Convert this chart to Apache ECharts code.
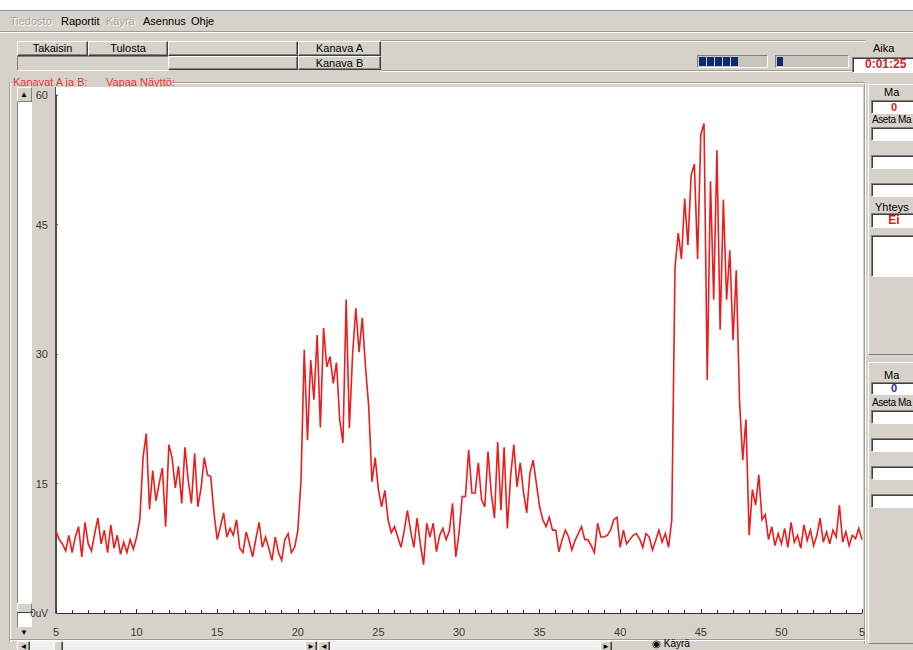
<!DOCTYPE html>
<html><head><meta charset="utf-8">
<script src="https://cdn.jsdelivr.net/npm/echarts@6/dist/echarts.min.js"></script>
<style>
body{margin:0;width:913px;height:650px;overflow:hidden;background:#d6d2ca;font-family:"Liberation Sans",Arial,sans-serif;font-size:11px;color:#000;position:relative}
.a{position:absolute}
.btn{position:absolute;box-sizing:border-box;background:#d6d2ca;border:1px solid;border-color:#fff #404040 #404040 #fff;box-shadow:inset -1px -1px #808080;text-align:center;line-height:12px;white-space:nowrap}
.sunk{position:absolute;box-sizing:border-box;background:#fff;border:1px solid;border-color:#808080 #fff #fff #808080;box-shadow:inset 1px 1px #404040;text-align:center;white-space:nowrap}
.l{position:absolute;white-space:nowrap;line-height:12px}
.dis{color:#a8a49c;text-shadow:1px 1px #fff}
.hl{position:absolute;height:1px;background:#a09c94;box-shadow:0 1px #fff}
.vl{position:absolute;width:1px;background:#a09c94;box-shadow:1px 0 #fff}
.sm{font-size:10px;letter-spacing:-0.4px}
#chart{position:absolute;left:0;top:0;width:913px;height:650px;z-index:5}
</style></head>
<body>
<!-- window chrome -->
<div class="a" style="left:0;top:0;width:913px;height:10px;background:#fff"></div>
<div class="a" style="left:0;top:10px;width:913px;height:1px;background:#8597b0"></div>
<div class="l dis" style="left:10px;top:15px">Tiedosto</div>
<div class="l" style="left:61px;top:15px">Raportit</div>
<div class="l dis" style="left:106px;top:15px">Käyrä</div>
<div class="l" style="left:143px;top:15px">Asennus</div>
<div class="l" style="left:191px;top:15px">Ohje</div>
<div class="hl" style="left:0;top:31px;width:913px"></div>

<div class="btn" style="left:17px;top:41px;width:71px;height:15px">Takaisin</div>
<div class="btn" style="left:88px;top:41px;width:80px;height:15px">Tulosta</div>
<div class="btn" style="left:168px;top:41px;width:130px;height:15px"></div>
<div class="btn" style="left:298px;top:41px;width:83px;height:15px">Kanava A</div>
<div class="a" style="left:17px;top:56px;width:150px;height:13px;border:1px solid;border-color:#808080 #fff #fff #808080"></div>
<div class="btn" style="left:168px;top:56px;width:130px;height:14px"></div>
<div class="btn" style="left:298px;top:56px;width:83px;height:14px">Kanava B</div>
<div class="hl" style="left:381px;top:40px;width:484px"></div>
<div class="hl" style="left:381px;top:70px;width:484px"></div>

<!-- progress bars -->
<div class="a" style="left:697px;top:55px;width:71px;height:13px;background:#c9c5bd;border:1px solid;border-color:#808080 #fff #fff #808080;box-sizing:border-box"></div>
<div class="a" style="left:699px;top:57px;width:7px;height:9px;background:#0c2a6e"></div>
<div class="a" style="left:707px;top:57px;width:7px;height:9px;background:#0c2a6e"></div>
<div class="a" style="left:715px;top:57px;width:7px;height:9px;background:#0c2a6e"></div>
<div class="a" style="left:723px;top:57px;width:7px;height:9px;background:#0c2a6e"></div>
<div class="a" style="left:731px;top:57px;width:7px;height:9px;background:#0c2a6e"></div>
<div class="a" style="left:775px;top:55px;width:74px;height:13px;background:#c9c5bd;border:1px solid;border-color:#808080 #fff #fff #808080;box-sizing:border-box"></div>
<div class="a" style="left:777px;top:57px;width:6px;height:9px;background:#0c2a6e"></div>
<div class="l" style="left:873px;top:42px">Aika</div>
<div class="sunk" style="left:852px;top:57px;width:70px;height:16px;text-align:left;padding-left:12px;color:#d81c24;font-weight:bold;font-size:12px;line-height:13px">0:01:25</div>

<!-- group box -->
<div class="hl" style="left:10px;top:82px;width:3px"></div>
<div class="hl" style="left:172px;top:82px;width:693px"></div>
<div class="vl" style="left:9px;top:82px;height:560px"></div>
<div class="l" style="left:13px;top:76px;color:#e8333a">Kanavat A ja B:</div>
<div class="l" style="left:106px;top:76px;color:#e8333a">Vapaa Näyttö:</div>

<!-- plot background -->
<div class="a" style="left:55px;top:87px;width:807px;height:526px;background:#fff;border-left:1px solid #505050"></div>
<div class="vl" style="left:864px;top:84px;height:560px"></div>

<!-- left slider -->
<div class="a" style="left:17px;top:87px;width:15px;height:15px;background:#d6d2ca;border:1px solid;border-color:#fff #808080 #808080 #fff;box-sizing:border-box"></div>
<div class="l" style="left:20px;top:89px;font-size:8px">▲</div>
<div class="a" style="left:17px;top:102px;width:15px;height:501px;background:#fff;border-left:1px solid #808080;box-sizing:border-box"></div>
<div class="a" style="left:17px;top:603px;width:15px;height:10px;background:#d6d2ca;border:1px solid;border-color:#fff #808080 #808080 #fff;box-sizing:border-box"></div>
<div class="a" style="left:17px;top:612px;width:16px;height:1px;background:#404040"></div>
<div class="a" style="left:17px;top:613px;width:15px;height:14px;background:#fff;border-left:1px solid #808080;box-sizing:border-box"></div>
<div class="l" style="left:20px;top:627px;font-size:8px">▼</div>

<!-- bottom scrollbars -->
<div class="hl" style="left:10px;top:639px;width:855px"></div>
<div class="btn" style="left:17px;top:641px;width:13px;height:12px;font-size:8px;line-height:10px">◄</div>
<div class="a" style="left:30px;top:641px;width:275px;height:12px;background:#f2f0ec"></div>
<div class="btn" style="left:54px;top:641px;width:9px;height:12px"></div>
<div class="btn" style="left:305px;top:641px;width:12px;height:12px;font-size:8px;line-height:10px">►</div>
<div class="btn" style="left:318px;top:641px;width:12px;height:12px;font-size:8px;line-height:10px">◄</div>
<div class="a" style="left:330px;top:641px;width:270px;height:12px;background:#f2f0ec"></div>
<div class="btn" style="left:600px;top:641px;width:12px;height:12px;font-size:8px;line-height:10px">►</div>
<div class="l" style="left:652px;top:638px;font-size:10px;line-height:11px">◉ Käyrä</div>

<!-- right panel -->
<div class="a" style="left:868px;top:84px;width:60px;height:271px;border:1px solid;border-color:#fff #808080 #808080 #fff;box-sizing:border-box"></div>
<div class="l" style="left:884px;top:86px">Ma</div>
<div class="sunk" style="left:871px;top:100px;width:46px;height:14px;color:#d81c24;font-weight:bold;line-height:12px">0</div>
<div class="l sm" style="left:872px;top:114px">Aseta Ma</div>
<div class="sunk" style="left:871px;top:127px;width:50px;height:14px"></div>
<div class="sunk" style="left:871px;top:155px;width:50px;height:14px"></div>
<div class="sunk" style="left:871px;top:183px;width:50px;height:14px"></div>
<div class="l" style="left:875px;top:201px">Yhteys</div>
<div class="sunk" style="left:871px;top:213px;width:46px;height:15px;color:#d81c24;font-weight:bold;font-size:12px;line-height:13px">Ei</div>
<div class="sunk" style="left:871px;top:235px;width:50px;height:42px"></div>
<div class="a" style="left:868px;top:362px;width:60px;height:282px;border:1px solid;border-color:#fff #808080 #808080 #fff;box-sizing:border-box"></div>
<div class="l" style="left:884px;top:369px">Ma</div>
<div class="sunk" style="left:871px;top:382px;width:46px;height:13px;color:#1a2aa8;font-weight:bold;line-height:11px">0</div>
<div class="l sm" style="left:872px;top:397px">Aseta Ma</div>
<div class="sunk" style="left:871px;top:410px;width:50px;height:14px"></div>
<div class="sunk" style="left:871px;top:438px;width:50px;height:14px"></div>
<div class="sunk" style="left:871px;top:466px;width:50px;height:14px"></div>
<div class="sunk" style="left:871px;top:494px;width:50px;height:14px"></div>

<div id="chart"></div>
<script>
// time axis: seconds, one sample every 0.2 s starting at 5 s
const xStart = 5;
const xStep = 0.2;
const xTicks = [5, 10, 15, 20, 25, 30, 35, 40, 45, 50, 55];
const yTicks = [0, 15, 30, 45, 60];

// signal (uV), in consecutive segments
const rest1  = [9.5,8.5,8.0,7.2,9.0, 7.0,8.8,10.0,6.5,10.5, 8.0,7.2,9.2,11.0,8.0, 9.6,7.0,10.2,7.5,9.0, 6.8,8.2,7.0,8.5,7.4];
const burst1 = [8.8,10.8,18.0,20.8,12.0, 16.5,13.0,15.0,16.8,10.0, 19.5,18.0,14.5,17.0,12.7, 19.2,15.4,12.7,18.5,12.3, 14.5,18.0,16.0,15.8,11.6];
const rest2  = [8.5,10.0,11.6,8.8,9.8, 9.0,10.8,7.5,7.0,9.4, 8.0,6.5,8.6,10.5,7.6, 8.8,7.5,6.1,8.8,7.0, 6.1,8.5,9.2,7.0,7.6];
const burst2 = [9.5,15.4,30.5,20.0,29.3, 24.7,32.2,21.5,33.0,28.5, 29.7,26.6,29.0,22.4,19.7, 36.3,21.4,30.0,35.3,30.2, 34.2,28.5,23.9,15.2,18.0, 14.3,12.3,14.2,10.8,9.3];
const rest3  = [10.0,8.8,7.6,9.5,11.9, 9.5,7.6,11.0,8.0,5.6, 10.4,8.8,10.4,7.1,9.0, 9.8,8.5,9.5,12.7,6.5];
const burst3 = [9.2,13.5,13.5,18.9,13.9, 13.9,17.4,13.1,12.3,18.7, 13.9,11.0,19.8,11.9,19.2, 9.8,15.8,19.5,14.6,17.4, 14.0,11.6,16.2,17.7,15.0, 12.3,10.8,10.0,11.1,9.6];
const rest4  = [9.6,7.1,8.5,9.6,8.8, 7.3,8.4,9.2,10.0,8.5, 8.5,7.8,7.0,10.4,8.8, 8.8,9.0,9.6,10.8,11.1, 7.6,9.6,8.0,8.5,9.0, 9.2,8.6,7.6,9.2,8.8, 7.3,8.4,9.6,8.2,9.2];
const burst4 = [7.6,10.8,40.0,44.0,41.0, 48.0,42.6,50.7,52.0,41.0, 55.4,56.7,27.0,50.0,36.3, 53.6,32.8,47.9,36.3,42.0, 31.6,39.7,24.7,17.7,22.4, 9.0,14.3,12.5,16.0,10.8];
const rest5  = [11.4,8.5,10.0,7.8,9.2, 8.0,9.8,7.6,10.5,8.2, 9.0,7.5,10.2,8.4,9.6, 7.8,9.0,11.0,8.2,9.4, 8.0,9.6,8.8,12.5,8.2, 9.4,7.8,9.0,8.6,9.8, 8.5];

const signal = [].concat(rest1, burst1, rest2, burst2, rest3, burst3, rest4, burst4, rest5);
const seriesData = signal.map((v, i) => [+(xStart + i * xStep).toFixed(2), v]);

const chart = echarts.init(document.getElementById('chart'), null, {renderer: 'svg'});
const font = '"Liberation Sans", Arial, sans-serif';
chart.setOption({
  animation: false,
  backgroundColor: 'transparent',
  grid: {left: 56, right: 51, top: 95, bottom: 37, containLabel: false},
  xAxis: {
    type: 'value',
    min: xTicks[0], max: xTicks[xTicks.length - 1], interval: 5,
    axisLine: {show: true, lineStyle: {color: '#303030', width: 1}},
    axisTick: {show: true, inside: true, length: 4, lineStyle: {color: '#303030'}},
    minorTick: {show: true, splitNumber: 5, length: 3, lineStyle: {color: '#303030'}},
    splitLine: {show: false},
    axisLabel: {
      color: '#3a3a3a', fontSize: 11, fontFamily: font, margin: 13,
      formatter: v => (v === 55 ? '5' : String(v))
    }
  },
  yAxis: {
    type: 'value',
    min: yTicks[0], max: yTicks[yTicks.length - 1], interval: 15,
    axisLine: {show: true, lineStyle: {color: '#505050'}},
    axisTick: {show: true, inside: true, length: 2, lineStyle: {color: '#505050'}},
    splitLine: {show: false},
    axisLabel: {
      color: '#3a3a3a', fontSize: 11, fontFamily: font, margin: 8,
      formatter: v => (v === 0 ? '{u|0uV}' : String(v)),
      rich: {u: {fontSize: 10, fontFamily: font, color: '#3a3a3a'}}
    }
  },
  series: [{
    type: 'line',
    data: seriesData,
    showSymbol: false,
    symbol: 'none',
    lineStyle: {color: '#ee1c1c', width: 1.6, join: 'miter'},
    z: 3
  }]
});
</script>
</body></html>
